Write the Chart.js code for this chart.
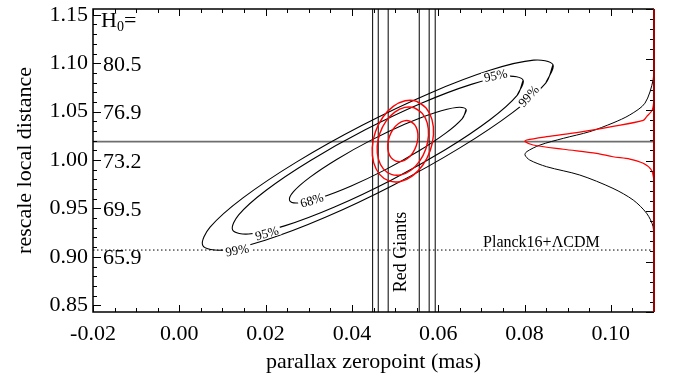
<!DOCTYPE html>
<html>
<head>
<meta charset="utf-8">
<script src="https://cdn.jsdelivr.net/npm/chart.js@4.4.0/dist/chart.umd.min.js"></script>
<style>
    html, body { margin: 0; padding: 0; background: #fff; }
    #zp_wrap { width: 673px; height: 375px; }
</style>
</head>
<body>
<div id="zp_wrap"><canvas id="zp_chart" width="673" height="375"></canvas></div>
<script>
    // axis ranges and ticks
    const xMin = -0.02, xMax = 0.11;
    const yMin = 0.843, yMax = 1.156;
    const xTicks = [-0.02, 0.00, 0.02, 0.04, 0.06, 0.08, 0.10];
    const yTicks = [0.85, 0.90, 0.95, 1.00, 1.05, 1.10, 1.15];
    const h0At = [0.90, 0.95, 1.00, 1.05, 1.10];
    const h0Text = ['65.9', '69.5', '73.2', '76.9', '80.5'];

    // black contours
    const c68x = [0.06647, 0.06558, 0.06173, 0.05548, 0.04779, 0.03983, 0.03281, 0.02781, 0.02558, 0.02646, 0.03031, 0.03656, 0.04425, 0.05221, 0.05923, 0.06423];
    const c68y = [1.05210, 1.04279, 1.02773, 1.00922, 0.99007, 0.97320, 0.96119, 0.95585, 0.95800, 0.96731, 0.98237, 1.00088, 1.02003, 1.03690, 1.04891, 1.05425];
    const c95x = [0.07968, 0.07828, 0.07198, 0.06172, 0.04907, 0.03596, 0.02438, 0.01609, 0.01236, 0.01376, 0.02006, 0.03032, 0.04297, 0.05608, 0.06766, 0.07595];
    const c95y = [1.08251, 1.06671, 1.04153, 1.01079, 0.97918, 0.95150, 0.93198, 0.92358, 0.92759, 0.94339, 0.96857, 0.99931, 1.03092, 1.05860, 1.07812, 1.08652];
    const c99x = [0.08660, 0.08491, 0.07729, 0.06491, 0.04966, 0.03385, 0.01990, 0.00992, 0.00544, 0.00713, 0.01475, 0.02713, 0.04238, 0.05819, 0.07214, 0.08212];
    const c99y = [1.09844, 1.07952, 1.04926, 1.01227, 0.97418, 0.94079, 0.91718, 0.90695, 0.91166, 0.93058, 0.96084, 0.99783, 1.03592, 1.06931, 1.09292, 1.10315];

    // red contours
    const r1x = [0.05341, 0.05448, 0.05514, 0.05529, 0.05491, 0.05406, 0.05286, 0.05150, 0.05019, 0.04912, 0.04846, 0.04831, 0.04869, 0.04954, 0.05074, 0.05210];
    const r1y = [1.04021, 1.03682, 1.03080, 1.02305, 1.01477, 1.00720, 1.00151, 0.99855, 0.99879, 1.00218, 1.00820, 1.01595, 1.02423, 1.03180, 1.03749, 1.04045];
    const r2x = [0.05448, 0.05631, 0.05746, 0.05774, 0.05712, 0.05569, 0.05367, 0.05136, 0.04912, 0.04729, 0.04614, 0.04586, 0.04648, 0.04791, 0.04993, 0.05224];
    const r2y = [1.05386, 1.04814, 1.03807, 1.02517, 1.01140, 0.99887, 0.98948, 0.98466, 0.98515, 0.99086, 1.00093, 1.01383, 1.02760, 1.04013, 1.04952, 1.05434];
    const r3x = [0.05501, 0.05719, 0.05856, 0.05890, 0.05815, 0.05644, 0.05403, 0.05127, 0.04859, 0.04641, 0.04504, 0.04470, 0.04545, 0.04716, 0.04957, 0.05233];
    const r3y = [1.06063, 1.05380, 1.04175, 1.02631, 1.00984, 0.99483, 0.98358, 0.97780, 0.97837, 0.98520, 0.99725, 1.01269, 1.02916, 1.04417, 1.05542, 1.06120];

    // sideways distributions at the right edge
    const margBlackX = [0.1100, 0.1098, 0.1079, 0.1044, 0.1005, 0.0951, 0.0890, 0.0836, 0.0805, 0.0801, 0.0812, 0.0851, 0.0928, 0.1005, 0.1052, 0.1083, 0.1098, 0.1100];
    const margBlackY = [1.1034, 1.0828, 1.0587, 1.0466, 1.0383, 1.0293, 1.0224, 1.0155, 1.0086, 1.0052, 1.0000, 0.9931, 0.9845, 0.9707, 0.9586, 0.9449, 0.9310, 0.9121];
    const margRedX = [0.1100, 0.1096, 0.1083, 0.1075, 0.1005, 0.0928, 0.0851, 0.0805, 0.0801, 0.0820, 0.0890, 0.0967, 0.1005, 0.1044, 0.1075, 0.1094, 0.1100];
    const margRedY = [1.0621, 1.0517, 1.0448, 1.0409, 1.0347, 1.0288, 1.0241, 1.0207, 1.0191, 1.0155, 1.0111, 1.0069, 1.0034, 1.0010, 0.9966, 0.9897, 0.9793];

    // reference lines
    const redGiantX = [0.0448, 0.0461, 0.0484, 0.0556, 0.0579, 0.0593];
    const localY = 1.019;
    const planckY = 0.907;

    // contour labels
    const cLabText = ['68%', '95%', '99%', '95%', '99%'];
    const cLabX = [0.0307, 0.0203, 0.0134, 0.0733, 0.0809];
    const cLabY = [0.9586, 0.9245, 0.9070, 1.0875, 1.0662];
    const cLabRot = [-17, -15, -10, -12, -48];

    const serif = '"Liberation Serif", "Times New Roman", serif';

    function pairs(xs, ys) {
        return xs.map((v, i) => ({x: v, y: ys[i]}));
    }
    function loop(xs, ys) {
        const p = pairs(xs, ys);
        return p.concat([p[0], p[1]]);
    }
    function line(data, color, width, extra) {
        return Object.assign({
            data: data,
            showLine: true,
            borderColor: color,
            borderWidth: width,
            pointRadius: 0,
            fill: false,
            tension: 0.35,
        }, extra || {});
    }

    const red = 'rgb(255,0,0)';
    var datasets = [
        line(loop(r1x, r1y), red, 1.4),
        line(loop(r2x, r2y), red, 1.4),
        line(loop(r3x, r3y), red, 1.4),
        line(pairs(margRedX, margRedY), red, 1.2, {tension: 0.3}),
        line(loop(c68x, c68y), '#000', 1.1),
        line(loop(c95x, c95y), '#000', 1.1),
        line(loop(c99x, c99y), '#000', 1.1),
        line(pairs(margBlackX, margBlackY), '#000', 1.0, {tension: 0.3}),
    ];
    redGiantX.forEach(v => {
        datasets.push(line([{x: v, y: yMin}, {x: v, y: yMax}], '#000', 1.0, {tension: 0}));
    });
    datasets.push(line([{x: xMin, y: localY}, {x: xMax, y: localY}], '#6e6e6e', 1.8, {tension: 0}));
    datasets.push(line([{x: xMin, y: planckY}, {x: xMax, y: planckY}], '#000', 1.0, {tension: 0, borderDash: [1.5, 2.5]}));

    // frame, inward ticks and in-plot text
    const zpDecor = {
        id: 'zpDecor',
        afterDatasetsDraw(chart) {
            const ctx = chart.ctx;
            const a = chart.chartArea;
            const sx = chart.scales.x, sy = chart.scales.y, sy2 = chart.scales.y2;
            ctx.save();
            ctx.strokeStyle = '#000';
            ctx.lineWidth = 1;
            ctx.beginPath();
            for (let k = -4; k <= 22; k++) {
                const px = Math.round(sx.getPixelForValue(k * 0.005)) + 0.5;
                const len = (k % 4 === 0) ? 7 : 4;
                ctx.moveTo(px, a.bottom); ctx.lineTo(px, a.bottom - len);
                ctx.moveTo(px, a.top); ctx.lineTo(px, a.top + len);
            }
            for (let k = 85; k <= 115; k++) {
                const py = Math.round(sy.getPixelForValue(k / 100)) + 0.5;
                const len = (k % 5 === 0) ? 8 : 4;
                ctx.moveTo(a.left, py); ctx.lineTo(a.left + len, py);
            }
            for (let k = 0; k <= 30; k++) {
                const py = Math.round(sy2.getPixelForValue(k)) + 0.5;
                const len = (k % 5 === 0) ? 8 : 4;
                ctx.moveTo(a.right, py); ctx.lineTo(a.right - len, py);
            }
            ctx.stroke();

            // frame
            ctx.lineWidth = 1.5;
            ctx.beginPath();
            ctx.moveTo(a.right, a.top); ctx.lineTo(a.left, a.top);
            ctx.lineTo(a.left, a.bottom); ctx.lineTo(a.right, a.bottom);
            ctx.stroke();
            ctx.strokeStyle = '#a00000';
            ctx.lineWidth = 2;
            ctx.beginPath();
            ctx.moveTo(a.right, a.top); ctx.lineTo(a.right, a.bottom);
            ctx.stroke();

            // H0 column
            ctx.fillStyle = '#000';
            ctx.textAlign = 'left';
            ctx.textBaseline = 'alphabetic';
            ctx.font = '22px ' + serif;
            const hx = a.left + 8;
            const hy = sy.getPixelForValue(yTicks[6]) + 12;
            ctx.fillText('H', hx, hy);
            const wH = ctx.measureText('H').width;
            ctx.font = '14px ' + serif;
            ctx.fillText('0', hx + wH, hy + 4);
            const w0 = ctx.measureText('0').width;
            ctx.font = '22px ' + serif;
            ctx.fillText('=', hx + wH + w0, hy);
            h0At.forEach((v, i) => {
                ctx.fillText(h0Text[i], a.left + 10, sy.getPixelForValue(v) + 7.5);
            });

            // contour labels with a white gap
            ctx.font = '13px ' + serif;
            cLabText.forEach((t, i) => {
                ctx.save();
                ctx.translate(sx.getPixelForValue(cLabX[i]), sy.getPixelForValue(cLabY[i]));
                ctx.rotate(cLabRot[i] * Math.PI / 180);
                const w = ctx.measureText(t).width;
                ctx.fillStyle = '#fff';
                ctx.fillRect(-w / 2 - 2, -5, w + 4, 10);
                ctx.fillStyle = '#000';
                ctx.textAlign = 'center';
                ctx.textBaseline = 'middle';
                ctx.fillText(t, 0, 1);
                ctx.restore();
            });

            // Planck label
            ctx.font = '16px ' + serif;
            ctx.textAlign = 'center';
            ctx.textBaseline = 'alphabetic';
            ctx.fillText('Planck16+\u039BCDM', sx.getPixelForValue(0.0839), sy.getPixelForValue(planckY) - 3);

            // Red Giants label
            ctx.save();
            ctx.translate(sx.getPixelForValue(0.0515), sy.getPixelForValue(0.905));
            ctx.rotate(-Math.PI / 2);
            ctx.font = '18px ' + serif;
            ctx.textAlign = 'center';
            ctx.textBaseline = 'middle';
            ctx.fillText('Red Giants', 0, 0);
            ctx.restore();

            ctx.restore();
        }
    };

    try {
        let chartCanvas = document.getElementById('zp_chart').getContext('2d');
        let chartObject = new Chart(chartCanvas, {
            type: 'scatter',
            data: {datasets: datasets},
            options: {
                responsive: false,
                animation: false,
                layout: {padding: {top: 9, right: 19, left: 0, bottom: 0}},
                plugins: {
                    legend: {display: false},
                    tooltip: {enabled: false},
                },
                scales: {
                    x: {
                        type: 'linear',
                        position: 'bottom',
                        min: xMin,
                        max: xMax,
                        grid: {display: false, drawTicks: false},
                        border: {display: false},
                        afterBuildTicks: s => { s.ticks = xTicks.map(v => ({value: v})); },
                        afterFit: s => { s.height = 63; s.paddingLeft = 0; s.paddingRight = 0; },
                        ticks: {
                            autoSkip: false,
                            maxRotation: 0,
                            padding: 9,
                            color: '#000',
                            font: {family: serif, size: 22},
                            callback: v => v.toFixed(2),
                        },
                        title: {
                            display: true,
                            text: 'parallax zeropoint (mas)',
                            color: '#000',
                            font: {family: serif, size: 22},
                            padding: {top: 0, bottom: 0},
                        },
                    },
                    y: {
                        type: 'linear',
                        position: 'left',
                        min: yMin,
                        max: yMax,
                        grid: {display: false, drawTicks: false},
                        border: {display: false},
                        afterBuildTicks: s => { s.ticks = yTicks.map(v => ({value: v})); },
                        afterFit: s => { s.width = 93; s.paddingTop = 0; s.paddingBottom = 0; },
                        ticks: {
                            autoSkip: false,
                            padding: 5,
                            color: '#000',
                            font: {family: serif, size: 22},
                            callback: v => v.toFixed(2),
                        },
                        title: {
                            display: true,
                            text: 'rescale local distance',
                            color: '#000',
                            font: {family: serif, size: 22},
                            padding: {top: 12, bottom: 0},
                        },
                    },
                    y2: {
                        type: 'linear',
                        position: 'right',
                        min: 0,
                        max: 30,
                        display: false,
                        afterFit: s => { s.width = 0; s.paddingTop = 0; s.paddingBottom = 0; },
                    },
                },
            },
            plugins: [zpDecor],
        });
    } catch (error) {
        console.log(`error: ${error.message}`);
    }
</script>
</body>
</html>
